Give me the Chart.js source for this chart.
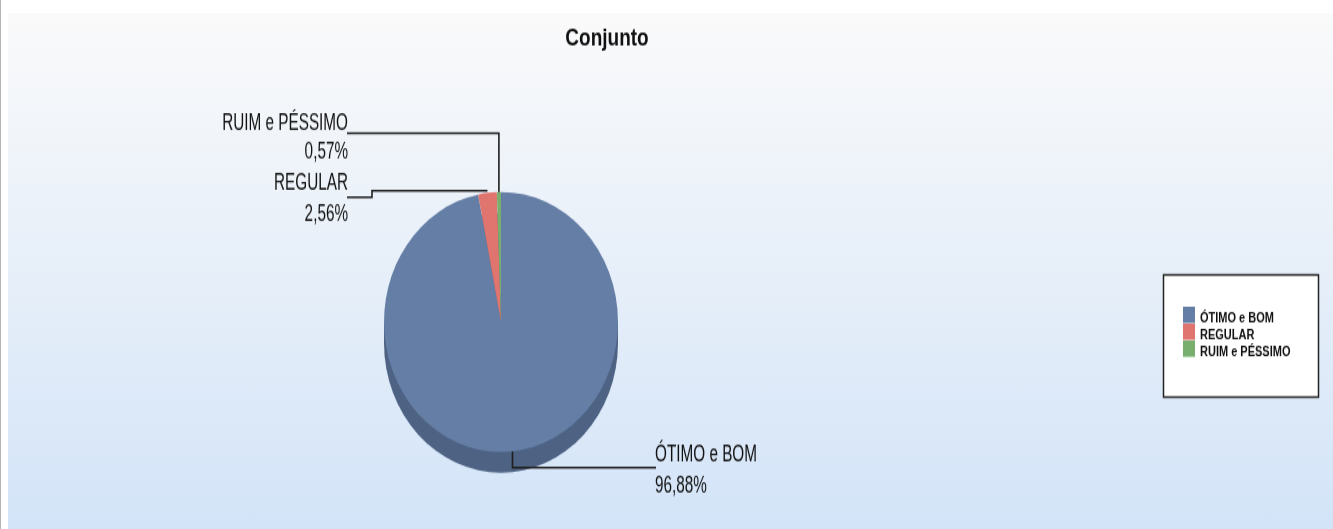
<!DOCTYPE html>
<html>
<head>
<meta charset="utf-8">
<script src="https://cdn.jsdelivr.net/npm/chart.js@4.4.0/dist/chart.umd.min.js"></script>
<style>
  html, body { margin: 0; padding: 0; background: #fff; overflow: hidden; }
  body { width: 1333px; height: 529px; position: relative; }
  #edge { position: absolute; left: 0; top: 0; width: 1px; height: 529px; background: #b4b4b4; }
  #panel { position: absolute; left: 8px; top: 13px; right: 0; bottom: 0;
           background: linear-gradient(to bottom, #fafafa 0%, #d3e4f8 100%); }
  #myChart { position: absolute; left: 0; top: 0; transform-origin: 0 0; transform: scaleY(1.29975); }
</style>
</head>
<body>
<div id="edge"></div>
<div id="panel"></div>
<canvas id="myChart" width="1333" height="407"></canvas>
<script>
const chartTitle = 'Conjunto';
const categories = ['ÓTIMO e BOM', 'REGULAR', 'RUIM e PÉSSIMO'];
const percentages = [96.88, 2.56, 0.57];

const sliceColors = ['#647ea5', '#e0756f', '#79af6e'];
const sideColor = '#4e6384';
const tilt = 100 / 117;   // how much the pie face is squashed
const depth = 16;         // thickness of the 3d side

const labelFont = '18px "Liberation Sans", sans-serif';
const narrow = 0.85;      // labels are drawn condensed

function pct(v) {
    return v.toFixed(2).replace('.', ',') + '%';
}

// condensed text
function narrowText(ctx, text, x, y) {
    ctx.save();
    ctx.translate(x, y);
    ctx.scale(narrow, 1);
    ctx.fillText(text, 0, 0);
    ctx.restore();
}

// anchor on the rim of a slice (middle angle), after squash
function anchor(chart, i) {
    const arc = chart.getDatasetMeta(0).data[i];
    const mid = (arc.startAngle + arc.endAngle) / 2;
    return {
        x: arc.x + arc.outerRadius * Math.cos(mid),
        y: arc.y + arc.outerRadius * Math.sin(mid) * tilt
    };
}

const pie3d = {
    id: 'pie3d',
    beforeDatasetsDraw(chart) {
        const ctx = chart.ctx;
        const arc = chart.getDatasetMeta(0).data[0];
        const r = arc.outerRadius;
        // side of the pie
        ctx.save();
        ctx.fillStyle = sideColor;
        ctx.beginPath();
        ctx.ellipse(arc.x, arc.y + depth, r, r * tilt, 0, 0, Math.PI * 2);
        ctx.fill();
        ctx.fillRect(arc.x - r, arc.y, r * 2, depth);
        ctx.restore();
        // squash the face
        ctx.save();
        ctx.translate(arc.x, arc.y);
        ctx.scale(1, tilt);
        ctx.translate(-arc.x, -arc.y);
    },
    afterDatasetsDraw(chart) {
        const ctx = chart.ctx;
        ctx.restore();

        // leader lines
        ctx.save();
        ctx.strokeStyle = '#1e1e1e';
        ctx.lineWidth = 1.6;
        let p = anchor(chart, 0);
        ctx.beginPath();
        ctx.moveTo(p.x, p.y);
        ctx.lineTo(p.x, 359.8);
        ctx.lineTo(656, 359.8);
        ctx.stroke();

        p = anchor(chart, 1);
        ctx.beginPath();
        ctx.moveTo(347, 151.8);
        ctx.lineTo(372, 151.8);
        ctx.lineTo(372, 146.7);
        ctx.lineTo(p.x, 146.7);
        ctx.stroke();

        p = anchor(chart, 2);
        ctx.beginPath();
        ctx.moveTo(347, 102.5);
        ctx.lineTo(p.x, 102.5);
        ctx.lineTo(p.x, p.y);
        ctx.stroke();

        // slice labels
        ctx.fillStyle = '#111';
        ctx.font = labelFont;
        ctx.textAlign = 'left';
        narrowText(ctx, categories[0], 655, 354.6);
        narrowText(ctx, pct(percentages[0]), 655, 378.5);
        ctx.textAlign = 'right';
        narrowText(ctx, categories[1], 348, 146);
        narrowText(ctx, pct(percentages[1]), 348, 170);
        narrowText(ctx, categories[2], 348, 100);
        narrowText(ctx, pct(percentages[2]), 348, 121.5);

        // title
        ctx.textAlign = 'center';
        ctx.font = 'bold 19px "Liberation Sans", sans-serif';
        ctx.fillText(chartTitle, 607, 34.6);

        // legend box
        ctx.fillStyle = '#fff';
        ctx.fillRect(1163.5, 211.5, 155, 94);
        ctx.strokeStyle = '#222';
        ctx.lineWidth = 1.5;
        ctx.strokeRect(1163.5, 211.5, 155, 94);
        ctx.textAlign = 'left';
        ctx.font = 'bold 11px "Liberation Sans", sans-serif';
        categories.forEach((c, i) => {
            ctx.fillStyle = sliceColors[i];
            ctx.fillRect(1183, 236 + 13 * i, 12, 12.5);
            ctx.fillStyle = '#111';
            ctx.fillText(c, 1200, 247.5 + 13 * i);
        });
        ctx.restore();
    }
};

const config = {
    type: 'pie',
    data: {
        labels: categories,
        datasets: [{
            data: percentages,
            backgroundColor: sliceColors,
            borderWidth: 0,
            radius: 117
        }]
    },
    options: {
        responsive: false,
        animation: false,
        events: [],
        rotation: 0,
        layout: {
            padding: { left: 384, right: 715, top: 130.7, bottom: 42.3 }
        },
        plugins: {
            legend: { display: false },
            title: { display: false },
            tooltip: { enabled: false }
        }
    },
    plugins: [pie3d]
};

const myChart = new Chart(document.getElementById('myChart'), config);
</script>
</body>
</html>
